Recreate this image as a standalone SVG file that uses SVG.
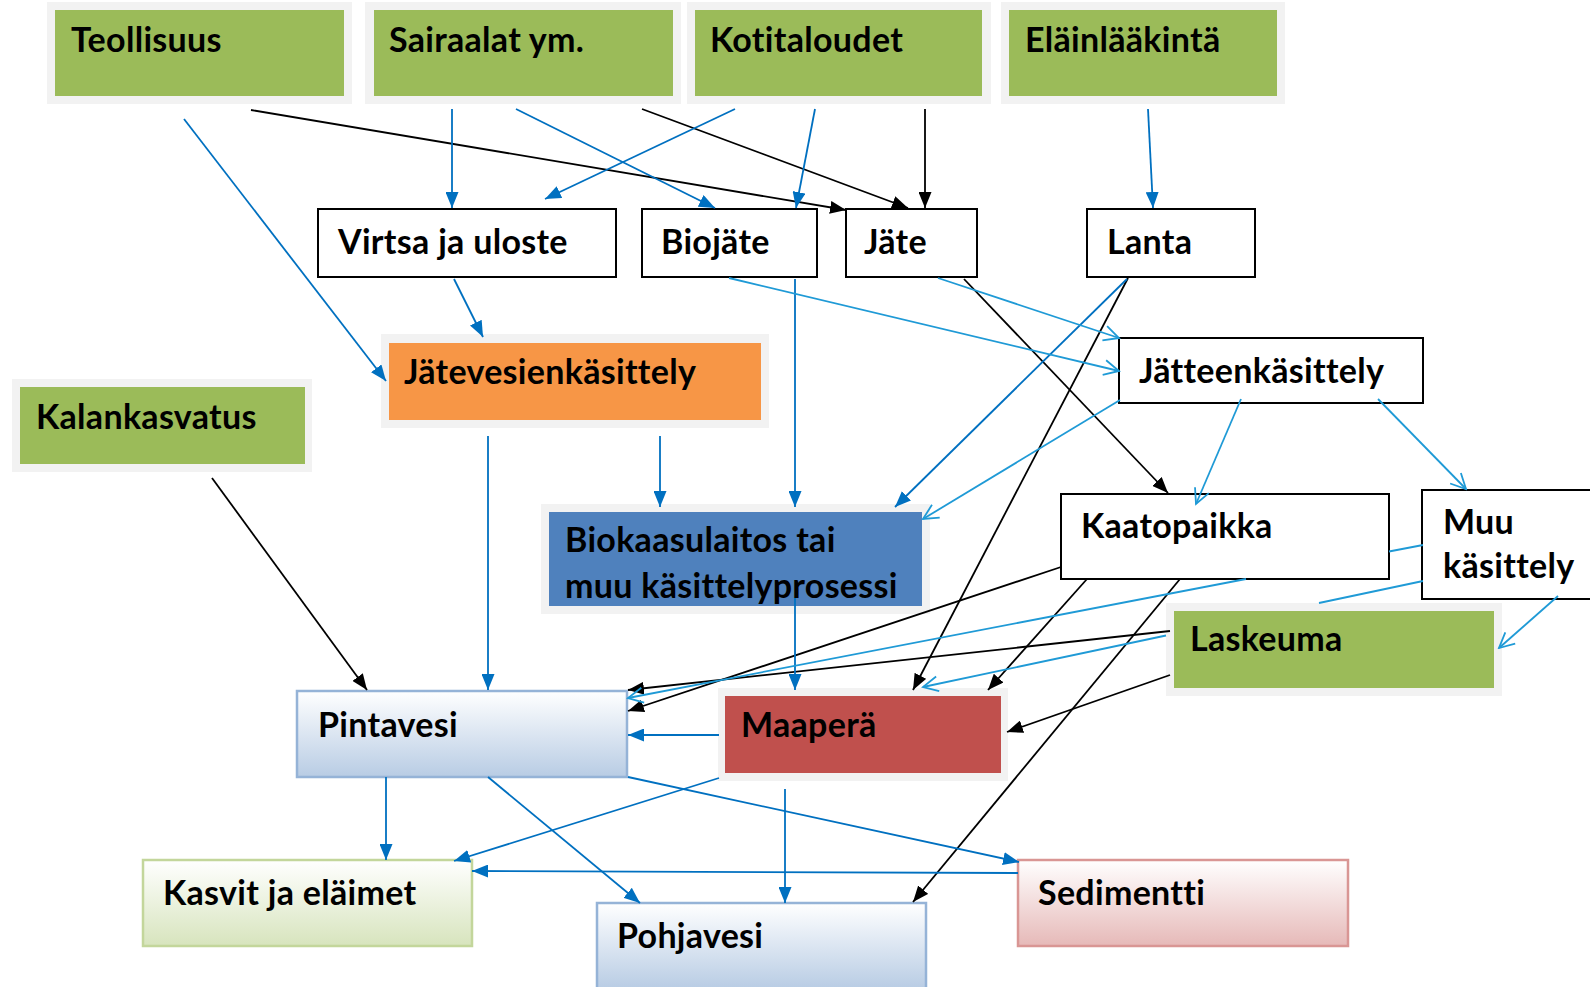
<svg xmlns="http://www.w3.org/2000/svg" width="1590" height="987" viewBox="0 0 1590 987">
<defs>
<style>
text{font-family:Lato,"Open Sans","Liberation Sans",sans-serif;font-weight:bold;font-size:34px;letter-spacing:0.3px;fill:#000}
.frame{fill:#f2f2f2}
.green{fill:#9bbb59}
.wbox{fill:#fff;stroke:#000;stroke-width:2}
.k{fill:none;stroke:#000;stroke-width:1.8;marker-end:url(#ak)}
.b{fill:none;stroke:#0070c0;stroke-width:1.8;marker-end:url(#ab)}
.l{fill:none;stroke:#1f9ad6;stroke-width:1.8;marker-end:url(#al)}
</style>
<marker id="ak" viewBox="0 0 16 13" refX="16" refY="6.5" markerWidth="16" markerHeight="13" orient="auto" markerUnits="userSpaceOnUse"><path d="M0,0 L16,6.5 L0,13 z" fill="#000"/></marker>
<marker id="ab" viewBox="0 0 16 13" refX="16" refY="6.5" markerWidth="16" markerHeight="13" orient="auto" markerUnits="userSpaceOnUse"><path d="M0,0 L16,6.5 L0,13 z" fill="#0070c0"/></marker>
<marker id="al" viewBox="-2 -2 19 19" refX="15" refY="7.5" markerWidth="19" markerHeight="19" orient="auto" markerUnits="userSpaceOnUse"><path d="M0,0 L15,7.5 L0,15" fill="none" stroke="#1f9ad6" stroke-width="1.8"/></marker>
<linearGradient id="gBlue" x1="0" y1="0" x2="0" y2="1"><stop offset="0" stop-color="#ffffff"/><stop offset="1" stop-color="#b8cce4"/></linearGradient>
<linearGradient id="gGreen" x1="0" y1="0" x2="0" y2="1"><stop offset="0" stop-color="#ffffff"/><stop offset="1" stop-color="#d7e4bd"/></linearGradient>
<linearGradient id="gRed" x1="0" y1="0" x2="0" y2="1"><stop offset="0" stop-color="#ffffff"/><stop offset="1" stop-color="#e6b9b8"/></linearGradient>
</defs>

<g id="teollisuus"><rect class="frame" x="47" y="2" width="305" height="102"/><rect class="green" x="55" y="10" width="289" height="86"/><text x="71" y="52">Teollisuus</text></g>
<g id="sairaalat"><rect class="frame" x="365" y="2" width="316" height="102"/><rect class="green" x="374" y="10" width="299" height="86"/><text x="389" y="52">Sairaalat ym.</text></g>
<g id="kotitaloudet"><rect class="frame" x="687" y="2" width="304" height="102"/><rect class="green" x="695" y="10" width="287" height="86"/><text x="710" y="52">Kotitaloudet</text></g>
<g id="elainlaakinta"><rect class="frame" x="1001" y="2" width="284" height="102"/><rect class="green" x="1009" y="10" width="268" height="86"/><text x="1025" y="52">Eläinlääkintä</text></g>

<g id="virtsa"><rect class="wbox" x="318" y="209" width="298" height="68"/><text x="338" y="254">Virtsa ja uloste</text></g>
<g id="biojate"><rect class="wbox" x="642" y="209" width="175" height="68"/><text x="661" y="254">Biojäte</text></g>
<g id="jate"><rect class="wbox" x="846" y="209" width="131" height="68"/><text x="864" y="254">Jäte</text></g>
<g id="lanta"><rect class="wbox" x="1087" y="209" width="168" height="68"/><text x="1107" y="254">Lanta</text></g>

<g id="jatevesienkasittely"><rect class="frame" x="381" y="334" width="388" height="94"/><rect x="389" y="343" width="372" height="77" fill="#f79646"/><text x="404" y="384">Jätevesienkäsittely</text></g>
<g id="kalankasvatus"><rect class="frame" x="12" y="379" width="300" height="93"/><rect class="green" x="20" y="387" width="285" height="77"/><text x="36" y="429">Kalankasvatus</text></g>
<g id="jatteenkasittely"><rect class="wbox" x="1119" y="338" width="304" height="65"/><text x="1139" y="383">Jätteenkäsittely</text></g>
<g id="biokaasulaitos"><rect class="frame" x="541" y="504" width="389" height="110"/><rect x="549" y="512" width="373" height="94" fill="#4f81bd"/><text x="565" y="552">Biokaasulaitos tai</text><text x="565" y="598">muu käsittelyprosessi</text></g>
<g id="kaatopaikka"><rect class="wbox" x="1061" y="494" width="328" height="85"/><text x="1081" y="538">Kaatopaikka</text></g>
<g id="muukasittely"><rect class="wbox" x="1422" y="490" width="200" height="109"/><text x="1443" y="534">Muu</text><text x="1443" y="578">käsittely</text></g>
<g id="laskeuma"><rect class="frame" x="1166" y="603" width="336" height="93"/><rect class="green" x="1174" y="611" width="320" height="77"/><text x="1190" y="651">Laskeuma</text></g>
<g id="pintavesi"><rect x="297" y="691" width="330" height="86" fill="url(#gBlue)" stroke="#95b3d7" stroke-width="2.5"/><text x="318" y="737">Pintavesi</text></g>
<g id="maapera"><rect class="frame" x="718" y="688" width="290" height="93"/><rect x="725" y="696" width="276" height="77" fill="#c0504d"/><text x="741" y="737">Maaperä</text></g>
<g id="kasvit"><rect x="143" y="860" width="329" height="86" fill="url(#gGreen)" stroke="#c3d69b" stroke-width="2.5"/><text x="163" y="905">Kasvit ja eläimet</text></g>
<g id="pohjavesi"><rect x="597" y="903" width="329" height="86" fill="url(#gBlue)" stroke="#95b3d7" stroke-width="2.5"/><text x="617" y="948">Pohjavesi</text></g>
<g id="sedimentti"><rect x="1018" y="860" width="330" height="86" fill="url(#gRed)" stroke="#d99694" stroke-width="2.5"/><text x="1038" y="905">Sedimentti</text></g>

<g id="connectors">
<path class="k" d="M251,110 L846,210"/>
<path class="k" d="M642,109 L908,208"/>
<path class="k" d="M925,109 L925,208"/>
<path class="k" d="M964,279 L1168,493"/>
<path class="k" d="M1128,278 L913,690"/>
<path class="k" d="M212,478 L367,690"/>
<path class="k" d="M1061,567 L628,711"/>
<path class="k" d="M1170,631 L628,690"/>
<path class="k" d="M1087,579 L988,690"/>
<path class="k" d="M1180,579 L913,902"/>
<path class="k" d="M1170,675 L1007,732"/>

<path class="b" d="M184,119 L386,381"/>
<path class="b" d="M452,109 L452,208"/>
<path class="b" d="M516,109 L715,208"/>
<path class="b" d="M735,109 L545,199"/>
<path class="b" d="M815,109 L796,208"/>
<path class="b" d="M1148,109 L1153,208"/>
<path class="b" d="M454,279 L483,337"/>
<path class="b" d="M795,279 L795,507"/>
<path class="b" d="M488,436 L488,690"/>
<path class="b" d="M660,436 L660,507"/>
<path class="b" d="M1127,279 L895,507"/>
<path class="b" d="M795,598 L795,690"/>
<path class="b" d="M719,735 L628,735"/>
<path class="b" d="M386,777 L386,860"/>
<path class="b" d="M488,777 L640,903"/>
<path class="b" d="M628,777 L1019,862"/>
<path class="b" d="M719,778 L454,861"/>
<path class="b" d="M785,789 L785,903"/>
<path class="b" d="M1018,873 L472,871"/>

<path class="l" d="M729,278 L1119,371"/>
<path class="l" d="M938,278 L1119,338"/>
<path class="l" d="M1120,400 L923,519"/>
<path class="l" d="M1241,399 L1196,504"/>
<path class="l" d="M1378,399 L1466,489"/>
<path class="l" d="M1558,596 L1499,648"/>
<path class="l" d="M1423,545 L1389,551.5 M1246,579 L628,698"/>
<path class="l" d="M1423,581 L1319,603 M1166,635.5 L923,687"/>
</g>
</svg>
